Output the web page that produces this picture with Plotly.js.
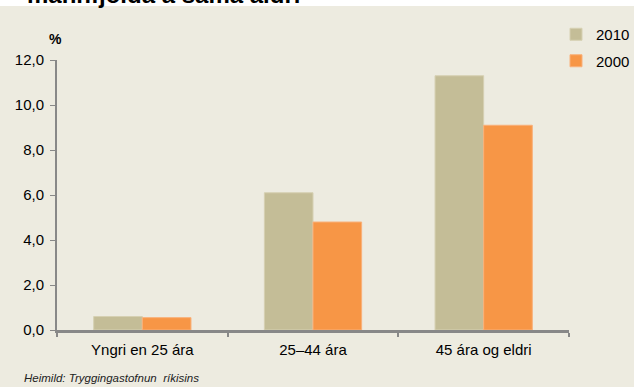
<!DOCTYPE html>
<html>
<head>
<meta charset="utf-8">
<script src="https://cdn.plot.ly/plotly-3.0.1.min.js"></script>
<style>html,body{margin:0;padding:0;background:#fff;}#chart{width:634px;height:387px;}</style>
</head>
<body>
<div id="chart"></div>
<script>
const categories = ['Yngri en 25 ára', '25–44 ára', '45 ára og eldri'];
const seriesNames = ['2010', '2000'];
const values2010 = [0.6, 6.1, 11.3];
const values2000 = [0.55, 4.8, 9.1];
const yTicks = [0, 2, 4, 6, 8, 10, 12];

const FONT = 'Liberation Sans, Arial, sans-serif';
const traces = [
  {type: 'bar', name: seriesNames[0], x: categories, y: values2010, legendgroup: 'a',
   marker: {color: '#C4BD97', line: {color: '#D6D0B2', width: 1}}},
  {type: 'bar', name: seriesNames[1], x: categories, y: values2000, legendgroup: 'b',
   marker: {color: '#F79646', line: {color: '#F9B07A', width: 1}}}
];

const layout = {
  width: 634, height: 387,
  margin: {l: 57, r: 65, t: 60, b: 57, autoexpand: false},
  paper_bgcolor: '#EDEBE0',
  plot_bgcolor: '#EDEBE0',
  separators: ',.',
  font: {family: FONT, size: 15, color: '#000'},
  barmode: 'group',
  bargap: 0.43,
  bargroupgap: 0,
  showlegend: true,
  legend: {x: 556/634, xref: 'container', xanchor: 'left', y: 1 - 18/387, yref: 'container', yanchor: 'top',
           bgcolor: 'rgba(0,0,0,0)', borderwidth: 0,
           font: {family: FONT, size: 15, color: '#000'}, traceorder: 'grouped',
           tracegroupgap: 4, itemwidth: 30},
  title: {text: '<b>mannfjölda á sama aldri</b>', font: {family: FONT, size: 24, color: '#000'},
          x: 27/634, xanchor: 'left', xref: 'container', y: 1 - 3/387, yanchor: 'bottom', yref: 'container'},
  xaxis: {
    type: 'category', showgrid: false, zeroline: false,
    showline: true, linecolor: '#888888', linewidth: 3,
    ticks: 'outside', tickson: 'boundaries', ticklen: 4, tickwidth: 2, tickcolor: '#888888',
    ticklabelstandoff: 4,
    tickfont: {family: FONT, size: 15, color: '#000'}
  },
  yaxis: {
    range: [0, 12], tickvals: yTicks, tickformat: '.1f',
    showgrid: false, zeroline: false,
    showline: true, linecolor: '#888888', linewidth: 2,
    ticks: 'outside', ticklen: 5, tickwidth: 1, tickcolor: '#888888',
    ticklabelstandoff: 3,
    tickfont: {family: FONT, size: 15, color: '#000'}
  },
  shapes: [
    {type: 'rect', xref: 'paper', yref: 'paper', x0: -0.2, x1: 1.2, y0: 1 + 54/270, y1: 1.3,
     fillcolor: '#ffffff', line: {width: 0}, layer: 'below'}
  ],
  annotations: [
    {text: '<b>%</b>', xref: 'paper', yref: 'paper', x: -2/512, y: 1 + 21/270, xanchor: 'center', yanchor: 'middle',
     showarrow: false, font: {family: FONT, size: 14, color: '#000'}},
    {text: '<i>Heimild: Tryggingastofnun  ríkisins</i>', xref: 'paper', yref: 'paper',
     x: -35/512, y: -48/270, xanchor: 'left', yanchor: 'middle',
     showarrow: false, font: {family: FONT, size: 11.5, color: '#222'}}
  ]
};

Plotly.newPlot('chart', traces, layout, {displayModeBar: false, staticPlot: true});
</script>
</body>
</html>
